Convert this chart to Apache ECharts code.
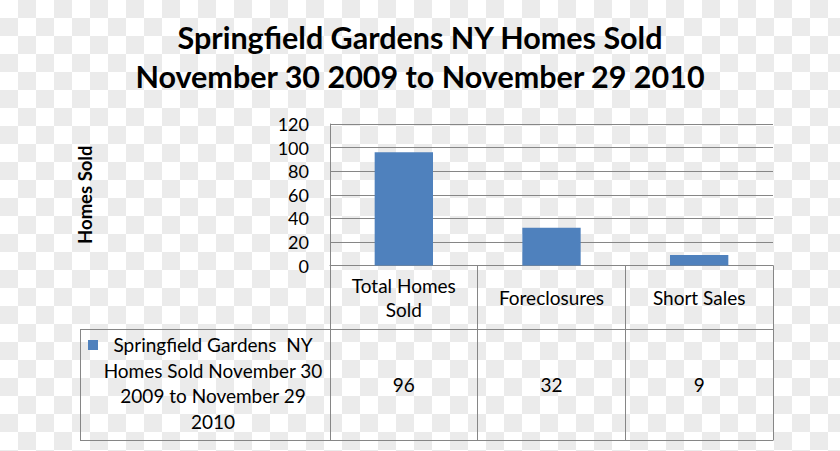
<!DOCTYPE html>
<html>
<head>
<meta charset="utf-8">
<script src="https://cdn.jsdelivr.net/npm/echarts@6/dist/echarts.min.js"></script>
<style>
html,body{margin:0;padding:0;}
body{width:840px;height:451px;background:repeating-conic-gradient(#ebebeb 0 25%, #ffffff 0 50%) 0 0/36px 36px;}
#c{width:840px;height:451px;}
</style>
</head>
<body>
<div id="c"></div>
<script>
var titleLines = ['Springfield Gardens NY Homes Sold', 'November 30 2009 to November 29 2010'];
var categories = ['Total Homes\nSold', 'Foreclosures', 'Short Sales'];
var values = [96, 32, 9];
var yTicks = { min: 0, max: 120, interval: 20 };
var yAxisTitle = 'Homes Sold';
var seriesName = 'Springfield Gardens  NY Homes Sold November 30 2009 to November 29 2010';
var legendLines = ['Springfield Gardens  NY', 'Homes Sold November 30', '2009 to November 29', '2010'];

var FONT = 'Lato';
var GRAY = '#868686';
var BLUE = '#4F81BD';

var chart = echarts.init(document.getElementById('c'), null, { renderer: 'svg' });
chart.setOption({
  animation: false,
  title: [{
    text: titleLines[0],
    left: 'center',
    top: 17,
    padding: 0,
    textStyle: { fontFamily: FONT, fontWeight: 'bold', fontSize: 30.5, lineHeight: 39, color: '#000' }
  }, {
    text: titleLines[1],
    left: 'center',
    top: 56,
    padding: 0,
    textStyle: { fontFamily: FONT, fontWeight: 'bold', fontSize: 30.5, lineHeight: 39, color: '#000' }
  }],
  grid: { left: 330, top: 124, width: 443, height: 141.5 },
  xAxis: [{
    type: 'category',
    data: categories,
    axisLine: { show: true, lineStyle: { color: GRAY, width: 1 } },
    axisTick: { show: true, interval: 0, length: 175, alignWithLabel: false, lineStyle: { color: GRAY, width: 1 } },
    axisLabel: { interval: 0, margin: 32, verticalAlign: 'middle', fontFamily: FONT, fontSize: 19, lineHeight: 24, color: '#000' }
  }, {
    type: 'category',
    position: 'bottom',
    data: values.map(function (v) { return String(v); }),
    axisLine: { show: false },
    axisTick: { show: false },
    axisLabel: { interval: 0, margin: 119, verticalAlign: 'middle', fontFamily: FONT, fontSize: 19, color: '#000' }
  }],
  yAxis: {
    type: 'value',
    min: yTicks.min, max: yTicks.max, interval: yTicks.interval,
    name: yAxisTitle,
    nameLocation: 'middle',
    nameGap: 236,
    nameRotate: 90,
    nameTextStyle: { fontFamily: FONT, fontWeight: 'bold', fontSize: 18.5, color: '#000' },
    axisLine: { show: true, lineStyle: { color: GRAY, width: 1 } },
    axisTick: { show: false },
    splitLine: { show: true, lineStyle: { color: GRAY, width: 1 } },
    axisLabel: { margin: 21, fontFamily: FONT, fontSize: 18, color: '#000' }
  },
  series: [{
    type: 'bar',
    name: seriesName,
    data: values,
    xAxisIndex: 0,
    barWidth: '39.5%',
    itemStyle: { color: BLUE }
  }],
  graphic: [
    { type: 'line', shape: { x1: 80, y1: 329.5, x2: 773, y2: 329.5 }, style: { stroke: GRAY, lineWidth: 1 } },
    { type: 'line', shape: { x1: 80, y1: 440.5, x2: 773, y2: 440.5 }, style: { stroke: GRAY, lineWidth: 1 } },
    { type: 'line', shape: { x1: 80.5, y1: 329.5, x2: 80.5, y2: 440.5 }, style: { stroke: GRAY, lineWidth: 1 } },
    { type: 'rect', shape: { x: 88, y: 340, width: 10, height: 10 }, style: { fill: BLUE } },
    { type: 'text', x: 213, y: 332, style: {
        text: legendLines.join('\n'), textAlign: 'center', textVerticalAlign: 'top', fontFamily: FONT, fontSize: 19, lineHeight: 25.5, fill: '#000'
      } }
  ]
});
</script>
</body>
</html>
